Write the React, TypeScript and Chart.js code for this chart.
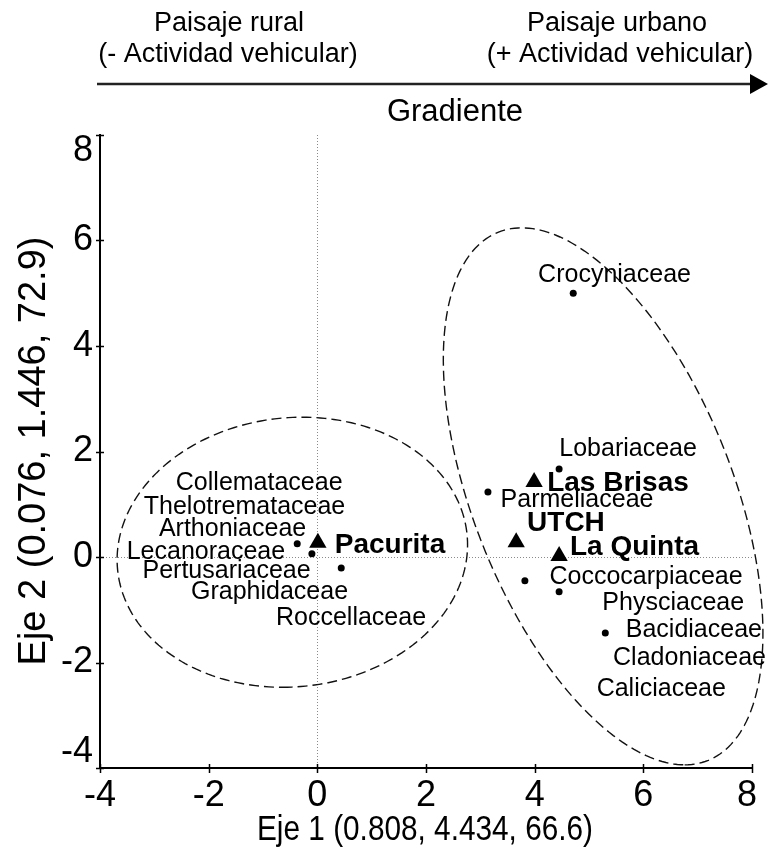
import React, { useEffect, useRef } from "react";
import { Chart, registerables } from "chart.js";
Chart.register(...registerables);

// ---- data ----
const siteNames = ["Pacurita", "Las Brisas", "UTCH", "La Quinta"];
const siteX = [0.01, 3.99, 3.66, 4.45];
const siteY = [0.27, 1.42, 0.28, 0.02];
const siteLabelX = [0.32, 4.23, 3.86, 4.65];
const siteLabelY = [0.23, 1.4, 0.64, 0.19];

const familyPointX = [4.71, 4.45, 3.14, 3.82, 4.45, 5.3, -0.37, -0.1, 0.44];
const familyPointY = [5.0, 1.67, 1.23, -0.45, -0.66, -1.44, 0.25, 0.06, -0.21];

const familyNames = [
  "Crocyniaceae", "Lobariaceae", "Parmeliaceae", "Coccocarpiaceae", "Physciaceae",
  "Bacidiaceae", "Cladoniaceae", "Caliciaceae", "Collemataceae", "Thelotremataceae",
  "Arthoniaceae", "Lecanoraceae", "Pertusariaceae", "Graphidaceae", "Roccellaceae",
];
const familyLabelX = [5.47, 5.72, 4.78, 6.05, 6.55, 6.93, 6.85, 6.33, -1.07, -1.34, -1.56, -2.05, -1.67, -0.88, 0.62];
const familyLabelY = [5.35, 2.05, 1.08, -0.38, -0.87, -1.38, -1.91, -2.5, 1.4, 0.95, 0.53, 0.09, -0.27, -0.66, -1.16];

const ellipseCenterX = [-0.46, 5.26];
const ellipseCenterY = [0.09, 1.15];
const ellipseAx = [-0.18, 1.5];
const ellipseAy = [-2.56, -5.09];
const ellipseBx = [3.22, 2.53];
const ellipseBy = [0, 0];

const xTicks = [-4, -2, 0, 2, 4, 6, 8];
const yTicks = [-4, -2, 0, 2, 4, 6, 8];

const xTitle = "Eje 1 (0.808, 4.434, 66.6)";
const yTitle = "Eje 2 (0.076, 1.446, 72.9)";
const headerLeft = ["Paisaje rural", "(- Actividad vehicular)"];
const headerRight = ["Paisaje urbano", "(+ Actividad vehicular)"];
const gradientLabel = "Gradiente";

// ---- style ----
const FONT = '"Liberation Sans", Arial, Helvetica, sans-serif';

function drawText(
  ctx: CanvasRenderingContext2D, text: string, x: number, y: number,
  font: string, align: CanvasTextAlign, targetW?: number
) {
  ctx.save();
  ctx.font = font;
  ctx.textAlign = align;
  ctx.textBaseline = "middle";
  ctx.fillStyle = "#000";
  ctx.translate(x, y);
  if (targetW) {
    const w = ctx.measureText(text).width;
    ctx.scale(targetW / w, 1);
  }
  ctx.fillText(text, 0, 0);
  ctx.restore();
}

const overlay = {
  id: "overlay",
  beforeDatasetsDraw(chart: any) {
    const { ctx, chartArea, scales } = chart;
    const xs = scales.x, ys = scales.y;
    ctx.save();
    // zero lines
    ctx.strokeStyle = "#8a8a8a";
    ctx.lineWidth = 1;
    ctx.setLineDash([1, 2]);
    const x0 = Math.round(xs.getPixelForValue(0)) + 0.5;
    const y0 = Math.round(ys.getPixelForValue(0)) + 0.5;
    ctx.beginPath();
    ctx.moveTo(x0, chartArea.top);
    ctx.lineTo(x0, chartArea.bottom);
    ctx.moveTo(chartArea.left, y0);
    ctx.lineTo(chartArea.right, y0);
    ctx.stroke();
    // ellipses
    ctx.strokeStyle = "#111";
    ctx.lineWidth = 1.4;
    ctx.setLineDash([10, 5]);
    for (let e = 0; e < ellipseCenterX.length; e++) {
      ctx.beginPath();
      const n = 240;
      for (let i = 0; i <= n; i++) {
        const t = (i / n) * Math.PI * 2;
        const dx = ellipseCenterX[e] + ellipseAx[e] * Math.cos(t) + ellipseBx[e] * Math.sin(t);
        const dy = ellipseCenterY[e] + ellipseAy[e] * Math.cos(t) + ellipseBy[e] * Math.sin(t);
        const px = xs.getPixelForValue(dx);
        const py = ys.getPixelForValue(dy);
        if (i === 0) ctx.moveTo(px, py);
        else ctx.lineTo(px, py);
      }
      ctx.stroke();
    }
    ctx.restore();
  },
  afterDatasetsDraw(chart: any) {
    const { ctx, chartArea, scales } = chart;
    const xs = scales.x, ys = scales.y;
    // family labels
    for (let i = 0; i < familyNames.length; i++) {
      drawText(ctx, familyNames[i], xs.getPixelForValue(familyLabelX[i]), ys.getPixelForValue(familyLabelY[i]),
        `25px ${FONT}`, "center");
    }
    // site labels
    for (let i = 0; i < siteNames.length; i++) {
      drawText(ctx, siteNames[i], xs.getPixelForValue(siteLabelX[i]), ys.getPixelForValue(siteLabelY[i]),
        `bold 28px ${FONT}`, "left");
    }
    // tick marks
    ctx.save();
    ctx.strokeStyle = "#000";
    ctx.lineWidth = 1.5;
    ctx.beginPath();
    for (const v of xTicks) {
      const px = Math.round(xs.getPixelForValue(v)) + 0.5;
      ctx.moveTo(px, chartArea.bottom - 4);
      ctx.lineTo(px, chartArea.bottom + 5);
    }
    for (const v of yTicks) {
      const py = Math.round(ys.getPixelForValue(v)) + 0.5;
      ctx.moveTo(chartArea.left - 4, py);
      ctx.lineTo(chartArea.left + 4, py);
    }
    ctx.stroke();
    ctx.restore();
    // tick labels
    const tickFont = `36px ${FONT}`;
    yTicks.forEach((v, i) => {
      let py = ys.getPixelForValue(v);
      if (i === 0) py -= 16;
      if (i === yTicks.length - 1) py += 16;
      drawText(ctx, String(v), chartArea.left - 7, py, tickFont, "right");
    });
    xTicks.forEach((v, i) => {
      const px = xs.getPixelForValue(v);
      if (i === xTicks.length - 1) drawText(ctx, String(v), px + 5, chartArea.bottom + 28, tickFont, "right");
      else drawText(ctx, String(v), px, chartArea.bottom + 28, tickFont, "center");
    });
  },
  afterDraw(chart: any) {
    const { ctx, chartArea } = chart;
    // axis titles
    drawText(ctx, xTitle, 425, chartArea.bottom + 62, `35px ${FONT}`, "center", 336);
    ctx.save();
    ctx.translate(35, 451);
    ctx.rotate(-Math.PI / 2);
    drawText(ctx, yTitle, 0, 0, `38px ${FONT}`, "center");
    ctx.restore();
    // header
    const hf = `27px ${FONT}`;
    drawText(ctx, headerLeft[0], 229, 24, hf, "center");
    drawText(ctx, headerLeft[1], 228, 55, hf, "center");
    drawText(ctx, headerRight[0], 617, 24, hf, "center");
    drawText(ctx, headerRight[1], 620, 55, hf, "center");
    drawText(ctx, gradientLabel, 455, 112, `31px ${FONT}`, "center");
    ctx.save();
    ctx.strokeStyle = "#222";
    ctx.fillStyle = "#000";
    ctx.lineWidth = 2.5;
    ctx.beginPath();
    ctx.moveTo(97, 84);
    ctx.lineTo(752, 84);
    ctx.stroke();
    ctx.beginPath();
    ctx.moveTo(750, 74);
    ctx.lineTo(768, 84);
    ctx.lineTo(750, 94);
    ctx.closePath();
    ctx.fill();
    ctx.restore();
  },
};

export default function App() {
  const ref = useRef<HTMLCanvasElement | null>(null);
  useEffect(() => {
    if (!ref.current) return;
    const chart = new Chart(ref.current, {
      type: "scatter",
      data: {
        datasets: [
          {
            label: "Familias",
            data: familyPointX.map((x, i) => ({ x, y: familyPointY[i] })),
            pointStyle: "circle",
            pointRadius: 3.5,
            backgroundColor: "#000",
            borderWidth: 0,
          },
          {
            label: "Sitios",
            data: siteX.map((x, i) => ({ x, y: siteY[i] })),
            pointStyle: "triangle",
            pointRadius: 10,
            backgroundColor: "#000",
            borderWidth: 0,
          },
        ],
      },
      options: {
        responsive: false,
        animation: false,
        events: [],
        layout: { padding: { top: 135, right: 16, bottom: 0, left: 0 } },
        plugins: { legend: { display: false }, tooltip: { enabled: false } },
        scales: {
          x: {
            type: "linear", min: -4, max: 8,
            ticks: { display: false, stepSize: 2 },
            grid: { display: false },
            border: { display: true, color: "#000", width: 2 },
            afterFit: (s: any) => { s.height = 97; },
          },
          y: {
            type: "linear", min: -4, max: 8,
            ticks: { display: false, stepSize: 2 },
            grid: { display: false },
            border: { display: true, color: "#000", width: 2 },
            afterFit: (s: any) => { s.width = 100; },
          },
        },
      },
      plugins: [overlay],
    });
    return () => chart.destroy();
  }, []);
  return (
    <div style={{ position: "absolute", left: 0, top: 0, width: 768, height: 865, background: "#fff" }}>
      <canvas ref={ref} width={768} height={865} style={{ display: "block" }} />
    </div>
  );
}
